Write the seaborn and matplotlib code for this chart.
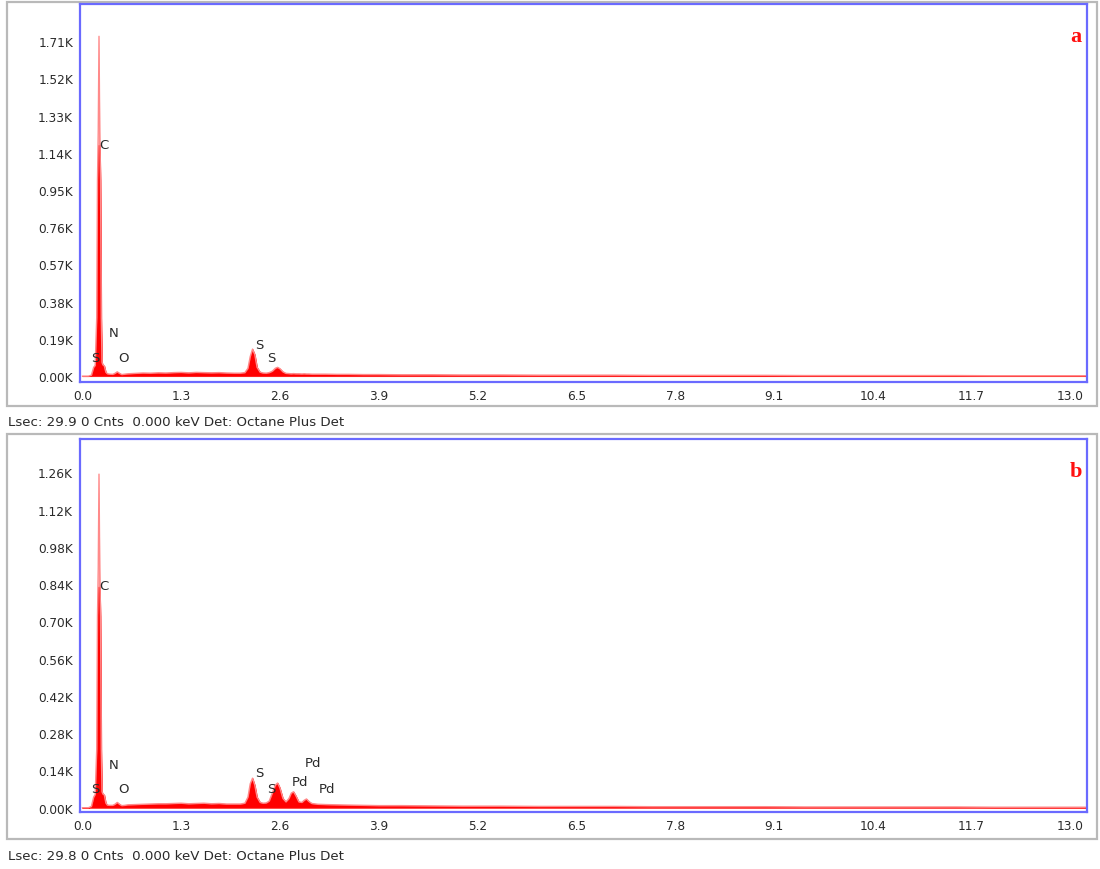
import numpy as np
import pandas as pd
import matplotlib
matplotlib.use("Agg")
import matplotlib.pyplot as plt
from matplotlib.patches import Rectangle
from matplotlib.ticker import FuncFormatter
import seaborn as sns

# ---------------- data ----------------
energy_kev = [0.00, 0.08, 0.12, 0.15, 0.17, 0.19, 0.20, 0.21, 0.22, 0.23, 0.24, 0.25,
              0.26, 0.27, 0.28, 0.29, 0.31, 0.33, 0.36, 0.40, 0.43, 0.46, 0.49, 0.52,
              0.56, 0.60, 0.70, 0.80, 0.90, 1.00, 1.10, 1.20, 1.30, 1.40, 1.50, 1.60,
              1.70, 1.80, 1.90, 2.00, 2.08, 2.14, 2.18, 2.21, 2.24, 2.27, 2.30, 2.34,
              2.38, 2.42, 2.46, 2.50, 2.54, 2.57, 2.60, 2.64, 2.68, 2.72, 2.75, 2.78,
              2.81, 2.85, 2.89, 2.92, 2.95, 2.98, 3.02, 3.10, 3.20, 3.35, 3.50, 3.70,
              3.90, 4.20, 4.60, 5.00, 5.50, 6.00, 6.50, 7.00, 7.50, 8.00, 8.50, 9.00,
              9.50, 10.0, 10.5, 11.0, 11.5, 12.0, 12.5, 13.0, 13.2]

counts_a = [0, 0, 5, 45, 55, 300, 1000, 1250, 1735, 1250, 1000, 300,
            70, 58, 55, 52, 20, 12, 10, 9, 14, 22, 14, 8,
            10, 12, 14, 16, 15, 17, 16, 18, 19, 17, 19, 18,
            17, 18, 16, 15, 15, 18, 40, 100, 138, 110, 45, 20,
            16, 15, 18, 25, 40, 45, 38, 22, 14, 13, 12, 13,
            12, 12, 11, 12, 11, 11, 10, 10, 10, 9, 9, 8,
            8, 7, 7, 6, 6, 5, 5, 5, 4, 4, 4, 4,
            3, 3, 3, 3, 3, 2, 2, 2, 2]

counts_b = [0, 0, 5, 40, 50, 220, 720, 900, 1253, 900, 720, 220,
            60, 52, 50, 48, 18, 10, 9, 9, 13, 20, 13, 8,
            9, 11, 12, 13, 14, 15, 15, 16, 17, 15, 16, 17,
            15, 16, 14, 14, 14, 17, 40, 90, 111, 85, 40, 20,
            17, 18, 25, 55, 85, 93, 75, 35, 22, 35, 55, 60,
            45, 22, 20, 28, 33, 24, 16, 13, 12, 11, 10, 9,
            8, 8, 7, 6, 6, 5, 5, 5, 4, 4, 4, 4,
            3, 3, 3, 3, 3, 2, 2, 2, 2]

# level above which the narrow peak tip is rendered light pink
solid_cap_a = 1180
solid_cap_b = 830

x_ticks = [0.0, 1.3, 2.6, 3.9, 5.2, 6.5, 7.8, 9.1, 10.4, 11.7, 13.0]
y_ticks_a = [0, 190, 380, 570, 760, 950, 1140, 1330, 1520, 1710]
y_ticks_b = [0, 140, 280, 420, 560, 700, 840, 980, 1120, 1260]

labels_a_text = ["C", "N", "S", "O", "S", "S"]
labels_a_x = [0.29, 0.41, 0.17, 0.54, 2.33, 2.49]
labels_a_y = [1183, 225, 97, 97, 159, 97]

labels_b_text = ["C", "N", "S", "O", "S", "S", "Pd", "Pd", "Pd"]
labels_b_x = [0.29, 0.41, 0.17, 0.54, 2.33, 2.49, 3.03, 2.86, 3.22]
labels_b_y = [833, 164, 74, 74, 134, 74, 171, 97, 74]

panel_letters = ["a", "b"]
footer_texts = ["Lsec: 29.9 0 Cnts  0.000 keV Det: Octane Plus Det",
                "Lsec: 29.8 0 Cnts  0.000 keV Det: Octane Plus Det"]

# ---------------- drawing ----------------
sns.set_style("white")
plt.rcParams["font.family"] = ["DejaVu Sans"]

W, H = 1100, 870
fig = plt.figure(figsize=(W / 100, H / 100), dpi=100)
fig.patch.set_facecolor("white")

def fx(px):
    return px / W

def fy(py):
    return 1 - py / H

panels = [
    dict(counts=counts_a, cap=solid_cap_a, yt=y_ticks_a, ylim=(-30, 1900),
         box=(80, 5, 1087, 383), frame=(7, 3, 1097, 407), footer_y=423,
         lt=labels_a_text, lx=labels_a_x, ly=labels_a_y),
    dict(counts=counts_b, cap=solid_cap_b, yt=y_ticks_b, ylim=(-16, 1385),
         box=(80, 440, 1087, 813), frame=(7, 435, 1097, 840), footer_y=857,
         lt=labels_b_text, lx=labels_b_x, ly=labels_b_y),
]

blue = "#6a6aff"
for i, p in enumerate(panels):
    fx0, fy0, fx1, fy1 = p["frame"]
    fig.add_artist(Rectangle((fx(fx0), fy(fy1)), fx(fx1 - fx0), (fy1 - fy0) / H,
                             transform=fig.transFigure, fill=False,
                             ec="#b9b9b9", lw=1.6, zorder=0))
    x0, y0, x1, y1 = p["box"]
    ax = fig.add_axes([fx(x0), fy(y1), fx(x1 - x0), (y1 - y0) / H])
    df = pd.DataFrame({"energy": energy_kev, "counts": p["counts"]})
    # light pink for the whole spectrum, solid red up to the cap
    sns.lineplot(data=df, x="energy", y="counts", ax=ax, color="#ff8a8a", lw=1.0,
                 estimator=None, sort=False)
    ax.fill_between(df["energy"], 0, df["counts"], color="#ff9c9c", lw=0)
    solid = np.minimum(df["counts"].to_numpy(), p["cap"])
    ax.fill_between(df["energy"], 0, solid, color="#ff0000", lw=0.6, edgecolor="#ff1a1a")
    ax.set_xlim(-0.03, 13.22)
    ax.set_ylim(*p["ylim"])
    ax.set_xticks(x_ticks)
    ax.set_yticks(p["yt"])
    ax.xaxis.set_major_formatter(FuncFormatter(lambda v, pos: f"{v:.1f}"))
    ax.yaxis.set_major_formatter(FuncFormatter(lambda v, pos: f"{v/1000:.2f}K"))
    ax.tick_params(axis="both", which="major", labelsize=8.7, labelcolor="#2a2a2a",
                   length=3, width=0.8, color="#999999", direction="out", pad=2)
    ax.set_xlabel("")
    ax.set_ylabel("")
    for s in ax.spines.values():
        s.set_color(blue)
        s.set_linewidth(1.6)
        s.set_visible(True)
    for t, xx, yy in zip(p["lt"], p["lx"], p["ly"]):
        ax.text(xx, yy, t, fontsize=9.5, color="#2a2a2a", ha="center", va="center")
    ax.text(0.9885, 0.915, panel_letters[i], transform=ax.transAxes,
            fontsize=16, fontweight="bold", color="#ff1010",
            family=["Liberation Serif", "DejaVu Serif"], ha="center", va="center")
    fig.text(fx(8), fy(p["footer_y"]), footer_texts[i], fontsize=9.6,
             color="#2a2a2a", ha="left", va="center")

fig.savefig("out.png", dpi=100, facecolor="white")
